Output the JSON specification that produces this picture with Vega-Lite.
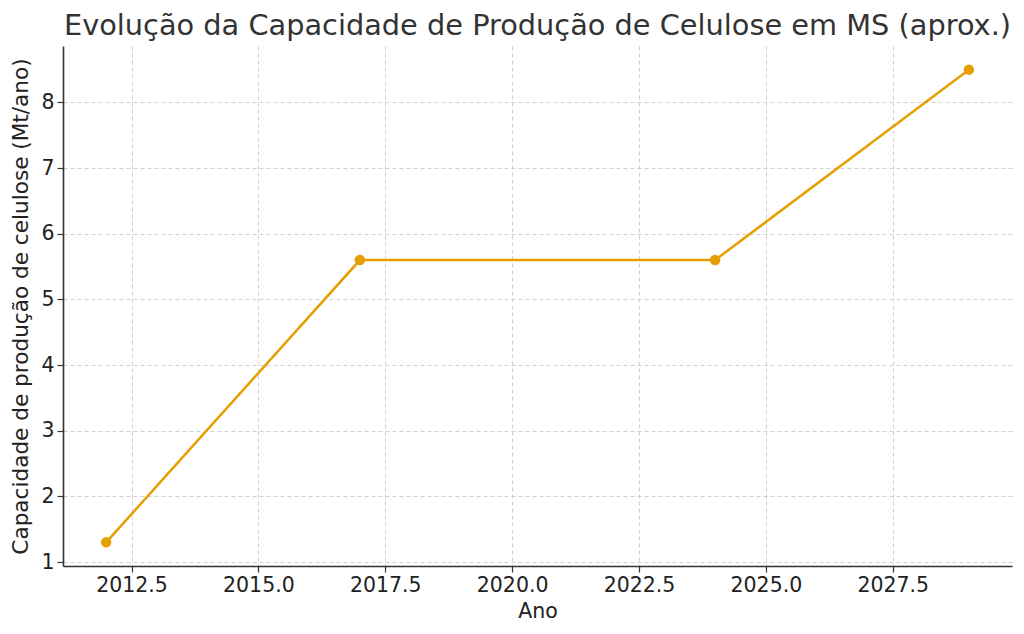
{
  "$schema": "https://vega.github.io/schema/vega-lite/v6.json",
  "width": 949,
  "height": 520,
  "autosize": "none",
  "padding": {"left": 63, "top": 46, "right": 12, "bottom": 68},
  "background": "white",
  "config": {
    "view": {"stroke": null},
    "font": "DejaVu Sans"
  },
  "title": {
    "text": "Evolução da Capacidade de Produção de Celulose em MS (aprox.)",
    "fontSize": 28.8,
    "font": "DejaVu Sans",
    "fontWeight": "normal",
    "color": "#333333",
    "anchor": "middle",
    "offset": 5
  },
  "data": {
    "values": [
      {"ano": 2012, "capacidade": 1.3},
      {"ano": 2017, "capacidade": 5.6},
      {"ano": 2024, "capacidade": 5.6},
      {"ano": 2029, "capacidade": 8.5}
    ]
  },
  "encoding": {
    "x": {
      "field": "ano",
      "type": "quantitative",
      "scale": {"domain": [2011.15, 2029.85], "nice": false, "zero": false},
      "axis": {
        "title": "Ano",
        "values": [2012.5, 2015, 2017.5, 2020, 2022.5, 2025, 2027.5],
        "format": ".1f",
        "labelFontSize": 20.5,
        "labelColor": "#222222",
        "labelPadding": 3,
        "titleFontSize": 20.5,
        "titleFontWeight": "normal",
        "titleColor": "#222222",
        "titlePadding": 6,
        "domainColor": "#333333",
        "domainWidth": 1.6,
        "tickColor": "#333333",
        "tickSize": 6,
        "tickWidth": 1.2,
        "grid": true,
        "gridColor": "#cccccc",
        "gridDash": [4, 3],
        "gridWidth": 0.9,
        "labelFlush": false
      }
    },
    "y": {
      "field": "capacidade",
      "type": "quantitative",
      "scale": {"domain": [0.94, 8.86], "nice": false, "zero": false},
      "axis": {
        "title": "Capacidade de produção de celulose (Mt/ano)",
        "values": [1, 2, 3, 4, 5, 6, 7, 8],
        "format": "d",
        "labelFontSize": 20.5,
        "labelColor": "#222222",
        "labelPadding": 3,
        "titleFontSize": 21.6,
        "titleFontWeight": "normal",
        "titleColor": "#222222",
        "titlePadding": 8,
        "domainColor": "#333333",
        "domainWidth": 1.6,
        "tickColor": "#333333",
        "tickSize": 6,
        "tickWidth": 1.2,
        "grid": true,
        "gridColor": "#cccccc",
        "gridDash": [4, 3],
        "gridWidth": 0.9,
        "labelFlush": false
      }
    }
  },
  "layer": [
    {
      "mark": {"type": "line", "color": "#E69F00", "strokeWidth": 2.5}
    },
    {
      "mark": {"type": "point", "filled": true, "color": "#E69F00", "size": 110, "opacity": 1}
    }
  ]
}
